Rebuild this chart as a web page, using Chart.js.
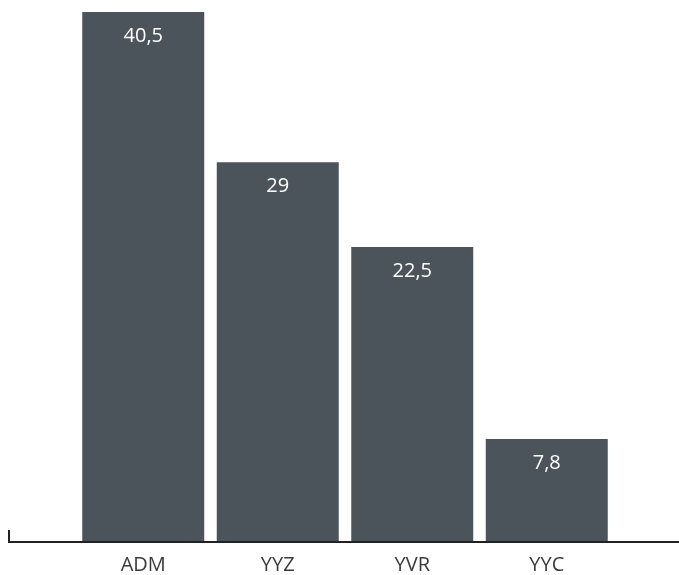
<!DOCTYPE html>
<html>
<head>
<meta charset="utf-8">
<script src="https://cdn.jsdelivr.net/npm/chart.js@4.4.1/dist/chart.umd.min.js"></script>
<style>
  html, body { margin: 0; padding: 0; background: #fff; }
  #wrap { width: 679px; height: 575px; }
</style>
</head>
<body>
<div id="wrap"><canvas id="barChart"></canvas></div>
<script>
// data
const categories = ['ADM', 'YYZ', 'YVR', 'YYC'];
const values = [40.5, 29, 22.5, 7.8];

const barColor = '#4a545a';

// axis line + small left tick
const baseline = {
    id: 'baseline',
    afterDatasetsDraw(chart) {
        const ctx = chart.ctx;
        const y = chart.chartArea.bottom + 1;
        ctx.save();
        ctx.strokeStyle = '#222';
        ctx.lineWidth = 2;
        ctx.beginPath();
        ctx.moveTo(9, y - 12);
        ctx.lineTo(9, y);
        ctx.lineTo(chart.width, y);
        ctx.stroke();
        ctx.restore();
    }
};

// values inside bars
const valueLabels = {
    id: 'valueLabels',
    afterDatasetsDraw(chart) {
        const ctx = chart.ctx;
        const meta = chart.getDatasetMeta(0);
        ctx.save();
        ctx.fillStyle = '#fff';
        ctx.font = '20px "Open Sans"';
        ctx.textAlign = 'center';
        ctx.textBaseline = 'middle';
        meta.data.forEach(function (bar, i) {
            const txt = String(values[i]).replace('.', ',');
            ctx.fillText(txt, bar.x, bar.y + 24);
        });
        ctx.restore();
    }
};

new Chart(document.getElementById('barChart'), {
    type: 'bar',
    data: {
        labels: categories,
        datasets: [{
            data: values,
            backgroundColor: barColor,
            borderWidth: 0,
            categoryPercentage: 0.907,
            barPercentage: 1
        }]
    },
    options: {
        responsive: true,
        maintainAspectRatio: false,
        animation: false,
        layout: { padding: { left: 76, right: 65, top: 12, bottom: 0 } },
        plugins: {
            legend: { display: false },
            tooltip: { enabled: false }
        },
        scales: {
            x: {
                grid: { display: false },
                border: { display: false },
                afterFit(axis) { axis.height = 34; },
                ticks: {
                    color: '#3a3a3a',
                    font: { family: 'Open Sans', size: 20 },
                    padding: 4
                }
            },
            y: {
                display: false,
                min: 0,
                max: 40.5
            }
        }
    },
    plugins: [baseline, valueLabels]
});
</script>
</body>
</html>
